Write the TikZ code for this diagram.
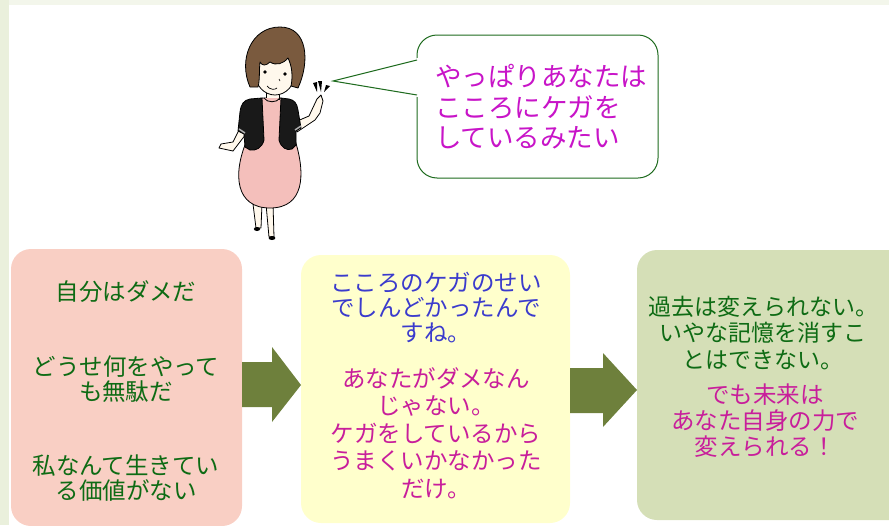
\documentclass[tikz,border=0pt]{standalone}
\usepackage{fontspec}
\setmainfont{Noto Sans CJK JP}

\definecolor{bgstrip}{HTML}{EAF0DC}
\definecolor{bgtop}{HTML}{F3F6EB}
\definecolor{pinkbox}{HTML}{F9CFC4}
\definecolor{yellowbox}{HTML}{FFFFCC}
\definecolor{greenbox}{HTML}{D5DFB7}
\definecolor{arrowgreen}{HTML}{6E803C}
\definecolor{textgreen}{HTML}{0E6B14}
\definecolor{textblue}{HTML}{3B3BCC}
\definecolor{textmagenta}{HTML}{C81E9B}
\definecolor{saycolor}{HTML}{C814C8}
\definecolor{talkline}{HTML}{1E6B1E}
\definecolor{hair}{HTML}{7A5A3E}
\definecolor{skin}{HTML}{FFF8EC}
\definecolor{dress}{HTML}{F4BFBB}

\begin{document}
\begin{tikzpicture}[x=1pt, y=-1pt,
    box/.style={rectangle, rounded corners=20pt, inner sep=0, outer sep=0, anchor=north west},
    msg/.style={font=\fontsize{23.5}{25}\selectfont, align=center, inner sep=0},
    say/.style={font=\fontsize{26.5}{30.5}\selectfont, text=saycolor, align=left, inner sep=0},
    bigarrow/.style={fill=arrowgreen},
    outline/.style={draw=black, line width=0.8pt, line join=round}]
    \useasboundingbox (0,0) rectangle (889,525);

    % page background
    \fill[bgtop] (0,0) rectangle (889,5);
    \fill[bgstrip] (0,0) rectangle (9,525);

    % the three boxes
    \node[box, fill=pinkbox, minimum width=231pt, minimum height=277pt] (bad) at (11,249) {};
    \node[box, fill=yellowbox, minimum width=269pt, minimum height=268pt] (hurt) at (301,255) {};
    \node[box, fill=greenbox, minimum width=283pt, minimum height=270pt] (future) at (637,250) {};

    \node[msg, text=textgreen] (bad1) at (126,292) {自分はダメだ};
    \node[msg, text=textgreen] (bad2) at (126,379) {どうせ何をやって\\も無駄だ};
    \node[msg, text=textgreen] (bad3) at (126,478) {私なんて生きてい\\る価値がない};

    \node[msg, text=textblue] (hurt1) at (436,308) {こころのケガのせい\\でしんどかったんで\\すね。};
    \node[msg, text=textmagenta, font=\fontsize{23.5}{27.5}\selectfont] (hurt2) at (436,433)
      {あなたがダメなん\\じゃない。\\ケガをしているから\\うまくいかなかった\\だけ。};

    \node[msg, text=textgreen, font=\fontsize{23}{26.5}\selectfont] (future1) at (763,333)
      {過去は変えられない。\\いやな記憶を消すこ\\とはできない。};
    \node[msg, text=textmagenta, font=\fontsize{23.5}{26}\selectfont] (future2) at (765,421)
      {でも未来は\\あなた自身の力で\\変えられる！};

    % block arrows between the boxes
    \fill[bigarrow] (bad.east |- 0,362) -- (272,362) -- (272,347) -- (hurt.west |- 0,385)
      -- (272,422) -- (272,407) -- (bad.east |- 0,407) -- cycle;
    \fill[bigarrow] (hurt.east |- 0,368) -- (603,368) -- (603,353) -- (future.west |- 0,390)
      -- (603,427) -- (603,413) -- (hurt.east |- 0,413) -- cycle;

    % speech bubble
    \draw[talkline, line width=1pt, fill=white, rounded corners=20pt] (417,35) rectangle (658,178);
    \coordinate (tip) at (333,81);
    \fill[white] (tip) -- (418,58) -- (418,97) -- cycle;
    \draw[talkline, line width=1pt] (417,60) -- (tip) -- (417,95);
    \node[say, anchor=west] (talk) at (435,107) {やっぱりあなたは\\こころにケガを\\しているみたい};

    % the woman
    \filldraw[outline, fill=skin] (253,204) -- (256,228) -- (261,228) -- (262,204) -- cycle;
    \filldraw[outline, fill=skin] (266,204) -- (269,237) -- (274,237) -- (273,204) -- cycle;
    \fill (257,229) ellipse (3.2 and 2);
    \fill (272,238) ellipse (3.4 and 2);
    \filldraw[outline, fill=dress] (262,98) -- (247,140) .. controls (232,175) and (236,208) .. (270,208)
      .. controls (304,208) and (306,175) .. (295,140) -- (281,98) -- cycle;
    % arms
    \filldraw[outline, fill=skin] (241,126) -- (233,142) -- (221,144) -- (219,148) -- (233,151)
      -- (246,134) -- cycle;
    \filldraw[outline, fill=skin] (295,122) -- (309,116) -- (317,99) -- (321,95) -- (323,101)
      -- (320,113) -- (315,120) -- (297,132) -- cycle;
    % jacket
    \filldraw[outline, fill=black!90] (262,98) -- (264,140) .. controls (262,148) and (256,151) .. (250,150)
      -- (245,147) -- (244,134) -- (238,131) -- (240,112) .. controls (241,104) and (244,100) .. (250,99) -- cycle;
    \filldraw[outline, fill=black!90] (281,98) -- (279,140) .. controls (281,148) and (287,151) .. (292,149)
      -- (296,145) -- (296,131) -- (301,128) -- (298,110) .. controls (297,103) and (294,100) .. (289,99) -- cycle;
    \draw[gray!60, line width=1.5pt] (239,129) -- (245,133);
    \draw[gray!60, line width=1.5pt] (295,130) -- (301,126);
    % head
    \filldraw[outline, fill=skin] (266,89) rectangle (279,99);
    \draw[outline, fill=dress] (264,98) .. controls (267,103) and (277,103) .. (280,98);
    \filldraw[outline, fill=skin] (275,73) ellipse (20 and 22);
    \filldraw[outline, fill=hair] (250,87) .. controls (238,60) and (251,27) .. (280,27)
      .. controls (308,27) and (310,62) .. (298,88) -- (291,86) .. controls (293,76) and (292,66) .. (288,58)
      .. controls (283,64) and (276,66) .. (270,62) .. controls (266,66) and (262,66) .. (260,62)
      .. controls (259,70) and (260,80) .. (258,87) -- cycle;
    \fill (265,72) circle (1.8);
    \fill (285,74) circle (1.8);
    \draw[line width=0.6pt] (279,79) -- (280,81);
    \draw[line width=0.7pt] (267,86) .. controls (270,90) and (275,90) .. (277,88);
    % little marks beside the hand
    \fill (313,83) -- (317,82) -- (317,92) -- cycle;
    \fill (318,81) -- (322,81) -- (321,92) -- cycle;
    \fill (326,85) -- (330,86) -- (324,92) -- cycle;
\end{tikzpicture}
\end{document}
